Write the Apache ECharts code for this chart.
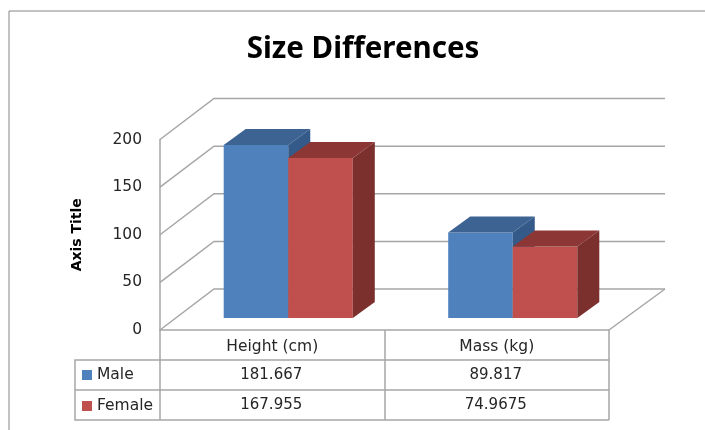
<!DOCTYPE html>
<html>
<head>
<meta charset="utf-8">
<title>Size Differences</title>
<script src="https://cdn.jsdelivr.net/npm/echarts@6/dist/echarts.min.js"></script>
<style>
  html, body { margin: 0; padding: 0; background: #fff; }
  #chart { width: 705px; height: 430px; }
</style>
</head>
<body>
<div id="chart"></div>
<script>
const categories = ['Height (cm)', 'Mass (kg)']
const maleValues = [181.667, 89.817]
const femaleValues = [167.955, 74.9675]
const yTicks = [0, 50, 100, 150, 200]

const lineColor = '#a6a6a6'
const textColor = '#262626'
const tableFont = 'DejaVu Sans'

// 3d look, in pixels
const wallDx = 54
const wallDy = 41
const barShiftX = 16
const barShiftY = 12
const barDx = 22
const barDy = 16
const barShare = 0.2875

function face(points, color) {
  return { type: 'polygon', shape: { points }, style: { fill: color } }
}

function barRenderer(side, colors, rowOffset) {
  return function (params, api) {
    const cat = api.value(0)
    const top = api.coord([cat, api.value(1)])
    const base = api.coord([cat, 0])
    const w = api.size([1, 0])[0] * barShare
    const x0 = base[0] + barShiftX + (side < 0 ? -w : 0)
    const x1 = x0 + w
    const yb = base[1] - barShiftY
    const yt = top[1] - barShiftY
    return {
      type: 'group',
      children: [
        face([[x0, yb], [x1, yb], [x1, yt], [x0, yt]], colors[0]),
        face([[x0, yt], [x1, yt], [x1 + barDx, yt - barDy], [x0 + barDx, yt - barDy]], colors[1]),
        face([[x1, yb], [x1 + barDx, yb - barDy], [x1 + barDx, yt - barDy], [x1, yt]], colors[2]),
        {
          type: 'text',
          style: {
            x: base[0] - 1,
            y: base[1] + rowOffset,
            text: String(api.value(1)),
            align: 'center',
            verticalAlign: 'middle',
            font: '15px "' + tableFont + '"',
            fill: textColor
          }
        }
      ]
    }
  }
}

function wallRenderer(params, api) {
  const y = api.coord([0, api.value(1)])[1]
  const left = params.coordSys.x
  const right = left + params.coordSys.width
  const line = (points) => ({
    type: 'polyline',
    shape: { points },
    style: { fill: null, stroke: lineColor, lineWidth: 1.5 }
  })
  const children = [line([[left, y], [left + wallDx, y - wallDy], [right + 56, y - wallDy]])]
  if (api.value(1) === 0) {
    children.push(line([[right, y], [right + 56, y - wallDy]]))
  }
  return { type: 'group', children }
}

const chart = echarts.init(document.getElementById('chart'))
chart.setOption({
  animation: false,
  backgroundColor: '#fff',
  title: {
    text: 'Size Differences',
    left: 358,
    top: 30,
    textAlign: 'center',
    textStyle: { fontFamily: 'Noto Sans', fontSize: 29.5, fontWeight: 'bold', color: '#000' }
  },
  grid: { left: 160, right: 96, top: 139.5, bottom: 100 },
  legend: {
    data: ['Male', 'Female'],
    orient: 'vertical',
    left: 77,
    top: 362,
    icon: 'rect',
    itemWidth: 10,
    itemHeight: 10,
    itemGap: 15,
    selectedMode: false,
    textStyle: { fontFamily: tableFont, fontSize: 15.5, color: textColor }
  },
  xAxis: {
    type: 'category',
    data: categories,
    axisLine: { lineStyle: { color: lineColor, width: 1.5 } },
    axisTick: { show: true, alignWithLabel: false, length: 90, lineStyle: { color: lineColor, width: 1.5 } },
    axisLabel: { margin: 9, fontFamily: tableFont, fontSize: 15.5, color: textColor }
  },
  yAxis: {
    type: 'value',
    min: 0,
    max: 200,
    interval: 50,
    name: 'Axis Title',
    nameLocation: 'middle',
    nameRotate: 90,
    nameGap: 76,
    nameTextStyle: { fontFamily: 'DejaVu Sans', fontSize: 14, fontWeight: 'bold', color: '#000' },
    splitLine: { show: false },
    axisLine: { show: true, lineStyle: { color: lineColor, width: 1.5 } },
    axisTick: { show: false },
    axisLabel: { margin: 18, padding: [8, 0, 0, 0], fontFamily: tableFont, fontSize: 15.5, color: textColor }
  },
  graphic: [
    // outer frame
    { type: 'polyline', shape: { points: [[9, 430], [9, 11], [705, 11]] }, style: { fill: null, stroke: '#868686', lineWidth: 1 } },
    // data table rows
    { type: 'polyline', shape: { points: [[160, 360], [75, 360], [75, 420], [609, 420]] }, style: { fill: null, stroke: lineColor, lineWidth: 1.5 } },
    { type: 'line', shape: { x1: 160, y1: 360, x2: 609, y2: 360 }, style: { stroke: lineColor, lineWidth: 1.5 } },
    { type: 'line', shape: { x1: 75, y1: 390, x2: 609, y2: 390 }, style: { stroke: lineColor, lineWidth: 1.5 } }
  ],
  series: [
    {
      name: 'walls',
      type: 'custom',
      z: 1,
      renderItem: wallRenderer,
      data: yTicks.map((v) => [0, v])
    },
    {
      name: 'Male',
      type: 'custom',
      z: 2,
      itemStyle: { color: '#4f81bd' },
      renderItem: barRenderer(-1, ['#4f81bd', '#3d6392', '#335a88'], 45),
      data: maleValues.map((v, i) => [i, v])
    },
    {
      name: 'Female',
      type: 'custom',
      z: 3,
      itemStyle: { color: '#c0504d' },
      renderItem: barRenderer(1, ['#c0504d', '#8c3735', '#7b302e'], 75),
      data: femaleValues.map((v, i) => [i, v])
    }
  ]
})
</script>
</body>
</html>
